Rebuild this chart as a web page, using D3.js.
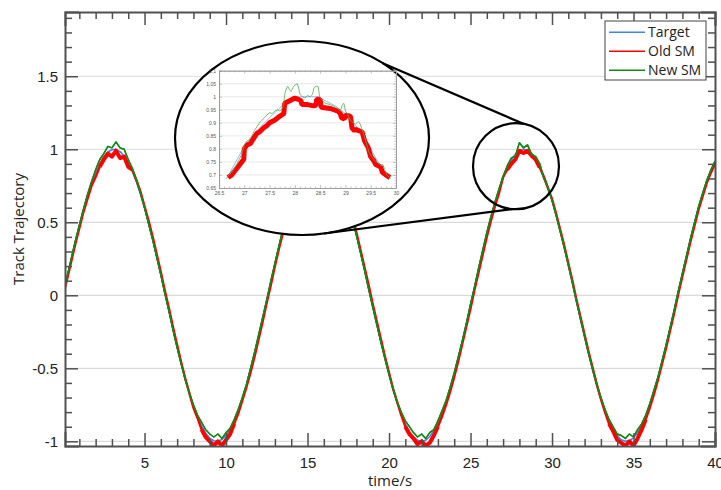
<!DOCTYPE html>
<html><head><meta charset="utf-8">
<script src="https://cdn.jsdelivr.net/npm/d3@7"></script>
<style>body{margin:0;background:#fff;} svg{display:block;font-family:"Open Sans","Noto Sans",sans-serif;}</style>
</head><body><svg id="c" width="721" height="490"></svg>
<script>
// ---------- DATA ----------
const T_START = 0, T_STEP = 0.25;   // sample times of the main series
const target = [0.000,0.125,0.247,0.366,0.479,0.585,0.682,0.768,0.841,0.902,0.949,0.981,0.997,0.999,0.984,0.954,0.909,0.851,0.778,0.694,
0.598,0.493,0.382,0.264,0.141,0.017,-0.108,-0.231,-0.351,-0.465,-0.572,-0.670,-0.757,-0.831,-0.895,-0.944,-0.978,-0.996,-0.999,-0.987,
-0.959,-0.917,-0.859,-0.788,-0.706,-0.612,-0.508,-0.398,-0.279,-0.157,-0.033,0.092,0.215,0.335,0.450,0.558,0.657,0.746,0.823,0.887,
0.938,0.975,0.995,1.000,0.989,0.964,0.922,0.867,0.798,0.717,0.624,0.523,0.412,0.296,0.174,0.050,-0.075,-0.198,-0.319,-0.435,
-0.544,-0.645,-0.736,-0.815,-0.880,-0.932,-0.970,-0.992,-1.000,-0.992,-0.967,-0.927,-0.875,-0.808,-0.730,-0.637,-0.537,-0.427,-0.311,-0.190,
-0.066,0.059,0.183,0.304,0.420,0.530,0.632,0.723,0.804,0.871,0.925,0.966,0.991,1.000,0.993,0.972,0.935,0.883,0.818,0.739,
0.650,0.550,0.441,0.326,0.206,0.083,-0.042,-0.166,-0.288,-0.405,-0.515,-0.619,-0.712,-0.796,-0.864,-0.920,-0.961,-0.989,-1.000,-0.995,
-0.976,-0.941,-0.891,-0.828,-0.751,-0.660,-0.562,-0.456,-0.340,-0.222,-0.099,0.025,0.150,0.272,0.389,0.501,0.605,0.700,0.783,0.855,0.913];
const oldSM = [0.00,0.11,0.23,0.35,0.46,0.57,0.66,0.75,0.81,0.88,0.93,0.97,0.95,0.99,0.94,0.95,0.88,0.86,0.79,0.71,
0.61,0.51,0.40,0.28,0.16,0.03,-0.09,-0.22,-0.34,-0.46,-0.57,-0.67,-0.77,-0.84,-0.92,-0.97,-1.00,-1.03,-1.00,-1.03,
-0.99,-0.95,-0.88,-0.81,-0.72,-0.63,-0.53,-0.42,-0.30,-0.18,-0.05,0.07,0.20,0.32,0.43,0.54,0.64,0.73,0.80,0.87,
0.91,0.96,0.98,0.95,0.98,0.94,0.93,0.87,0.81,0.73,0.64,0.54,0.43,0.31,0.19,0.07,-0.06,-0.18,-0.30,-0.42,
-0.53,-0.64,-0.73,-0.82,-0.90,-0.95,-0.98,-1.02,-1.00,-1.03,-1.01,-0.96,-0.90,-0.83,-0.75,-0.66,-0.56,-0.45,-0.33,-0.21,
-0.09,0.04,0.16,0.28,0.40,0.51,0.61,0.70,0.81,0.86,0.90,0.93,0.99,0.975,0.99,0.955,0.93,0.875,0.81,0.735,
0.66,0.56,0.45,0.34,0.22,0.10,-0.03,-0.15,-0.27,-0.39,-0.50,-0.61,-0.71,-0.80,-0.88,-0.93,-0.99,-1.01,-1.03,-1.00,
-1.03,-0.98,-0.92,-0.85,-0.77,-0.68,-0.58,-0.47,-0.36,-0.24,-0.12,0.01,0.13,0.25,0.37,0.48,0.59,0.68,0.77,0.84,0.90];
const newSM = [0.00,0.13,0.25,0.37,0.48,0.59,0.69,0.78,0.86,0.93,0.97,1.02,1.01,1.05,1.01,1.00,0.93,0.87,0.79,0.70,
0.60,0.49,0.38,0.26,0.14,0.01,-0.11,-0.24,-0.36,-0.47,-0.58,-0.67,-0.75,-0.82,-0.87,-0.92,-0.95,-0.97,-0.95,-0.98,
-0.94,-0.91,-0.85,-0.78,-0.70,-0.61,-0.50,-0.39,-0.27,-0.15,-0.03,0.10,0.22,0.34,0.46,0.57,0.67,0.76,0.84,0.91,
0.95,1.00,1.03,1.00,1.03,0.97,0.95,0.88,0.81,0.72,0.63,0.52,0.41,0.29,0.17,0.04,-0.08,-0.20,-0.32,-0.43,
-0.54,-0.64,-0.73,-0.80,-0.86,-0.90,-0.94,-0.97,-0.95,-0.98,-0.94,-0.92,-0.86,-0.79,-0.72,-0.63,-0.53,-0.42,-0.31,-0.19,
-0.06,0.06,0.19,0.31,0.43,0.54,0.64,0.73,0.815,0.886,0.94,0.955,1.045,1.01,1.03,0.965,0.95,0.90,0.80,0.74,
0.65,0.55,0.44,0.33,0.21,0.09,-0.04,-0.16,-0.28,-0.40,-0.51,-0.61,-0.70,-0.78,-0.85,-0.90,-0.95,-0.96,-0.98,-0.95,
-0.97,-0.92,-0.88,-0.82,-0.74,-0.65,-0.56,-0.45,-0.34,-0.22,-0.10,0.03,0.15,0.27,0.39,0.50,0.61,0.70,0.79,0.86,0.92];

// zoomed inset (26.5 .. 30 s)
const insetTargetT = [26.65,27.0,27.25,27.5,27.8,28.0,28.1,28.45,28.6,28.8,29.0,29.2,29.4,29.6,29.75,29.9];
const insetTargetV = [0.685,0.81,0.87,0.92,0.975,0.995,1.0,1.0,0.985,0.965,0.935,0.89,0.835,0.765,0.72,0.685];
const insetNewT = [26.65,26.75,26.85,26.95,27.0,27.05,27.1,27.15,27.2,27.25,27.3,27.35,27.4,27.45,27.5,27.55,27.6,27.65,27.7,27.75,
27.78,27.8,27.83,27.86,27.9,27.93,27.96,28.0,28.05,28.08,28.1,28.15,28.2,28.25,28.3,28.35,28.38,28.42,28.46,28.49,
28.55,28.6,28.7,28.8,28.85,28.9,28.94,28.97,29.0,29.05,29.1,29.15,29.2,29.25,29.28,29.32,29.38,29.43,29.47,29.52,
29.58,29.65,29.7,29.74,29.78,29.82,29.87];
const insetNewV = [0.69,0.71,0.74,0.78,0.815,0.83,0.835,0.85,0.87,0.885,0.9,0.91,0.92,0.93,0.94,0.935,0.945,0.95,0.945,0.955,
0.97,1.01,1.03,1.04,1.025,1.02,1.035,1.045,1.05,1.03,1.01,1.0,0.995,1.005,1.0,1.01,1.035,1.04,1.04,1.0,
0.985,0.975,0.97,0.96,0.955,0.945,0.97,0.975,0.945,0.93,0.91,0.9,0.895,0.905,0.9,0.88,0.845,0.81,0.785,0.77,
0.755,0.745,0.735,0.74,0.72,0.7,0.69];
const insetOldT = [26.68,26.75,26.85,26.95,26.99,27.0,27.05,27.12,27.2,27.25,27.3,27.38,27.45,27.5,27.6,27.7,27.78,27.8,27.9,28.0,
28.07,28.12,28.14,28.25,28.37,28.42,28.43,28.5,28.52,28.7,28.85,28.9,28.92,28.98,29.0,29.1,29.13,29.18,29.2,29.33,
29.38,29.45,29.5,29.56,29.6,29.7,29.73,29.8,29.88];
const insetOldV = [0.69,0.70,0.725,0.75,0.76,0.80,0.815,0.82,0.845,0.86,0.865,0.88,0.89,0.9,0.91,0.925,0.935,0.975,0.985,0.995,
0.99,0.985,0.97,0.97,0.965,0.968,0.99,0.99,0.96,0.955,0.945,0.935,0.92,0.915,0.93,0.925,0.88,0.87,0.875,0.865,
0.83,0.805,0.77,0.755,0.74,0.73,0.71,0.7,0.69];

const xTickValues = [5,10,15,20,25,30,35,40];
const yTickValues = [-1,-0.5,0,0.5,1,1.5];
const insetXTicks = [26.5,27,27.5,28,28.5,29,29.5,30];
const insetYTicks = [0.65,0.7,0.75,0.8,0.85,0.9,0.95,1,1.05,1.1];
const seriesNames = ["Target","Old SM","New SM"];
const xLabel = "time/s", yLabel = "Track Trajectory";

// ---------- CHART ----------
const svg = d3.select("#c");
const L = 65, R = 715, T = 12, B = 446;
const x = d3.scaleLinear().domain([0.12, 40]).range([L, R]);
const y = d3.scaleLinear().domain([-1.032, 1.94]).range([B, T]);
const colors = {"Target":"#3f86ec","Old SM":"#ff0000","New SM":"#138a13"};

const toPts = arr => arr.map((v,i)=>({t:T_START+i*T_STEP, v}));
const series = [
  {name:"Target", pts:toPts(target), w:1.6},
  {name:"Old SM", pts:toPts(oldSM), w:2.4},
  {name:"New SM", pts:toPts(newSM), w:1.4}
];

// grid
svg.append("g").selectAll("line").data(yTickValues).join("line")
  .attr("x1",L).attr("x2",R).attr("y1",d=>y(d)).attr("y2",d=>y(d))
  .attr("stroke","#dadada").attr("stroke-width",1.2);

svg.append("clipPath").attr("id","pc").append("rect").attr("x",L).attr("y",T).attr("width",R-L).attr("height",B-T);
const gl = svg.append("g").attr("clip-path","url(#pc)");
const line = d3.line().x(d=>x(d.t)).y(d=>y(d.v));
series.forEach(s=>{
  gl.append("path").datum(s.pts).attr("d",line).attr("fill","none")
    .attr("stroke",colors[s.name]).attr("stroke-width",s.w).attr("stroke-linejoin","round");
  if (s.name==="Old SM") {
    // chatter band of old SM near the extremes
    gl.append("path").datum(s.pts)
      .attr("d", d3.line().defined(d=>Math.abs(d.v)>0.84).x(d=>x(d.t)).y(d=>y(d.v)))
      .attr("fill","none").attr("stroke",colors[s.name]).attr("stroke-width",4).attr("stroke-linejoin","round");
  }
});
gl.append("path").datum(series[2].pts).attr("d",line).attr("fill","none")
  .attr("stroke",colors["New SM"]).attr("stroke-width",1.4).attr("stroke-linejoin","round");

// axes
const axisColor = "#505050";
const minorX = d3.range(1,41,1).filter(d=>d%5!==0);
const minorY = d3.range(-10,20,1).map(d=>d/10).filter(d=>Math.abs((d*10)%5)!==0 && d>=-1.03 && d<=1.94);
const fmt = d=>String(d);
function styleAxis(g, w){ g.selectAll("path.domain").attr("stroke",axisColor).attr("stroke-width",w); g.selectAll(".tick line").attr("stroke",axisColor).attr("stroke-width",1.5); g.selectAll("text").attr("fill","#222").attr("font-size",15); }
const gx = svg.append("g").attr("transform",`translate(0,${B})`).call(d3.axisBottom(x).tickValues(xTickValues).tickSize(-13).tickPadding(11).tickFormat(fmt));
styleAxis(gx,2);
svg.append("g").attr("transform",`translate(0,${B})`).call(d3.axisBottom(x).tickValues(minorX).tickSize(-7).tickFormat("")).call(g=>styleAxis(g,0));
const gy = svg.append("g").attr("transform",`translate(${L},0)`).call(d3.axisLeft(y).tickValues(yTickValues).tickSize(-13).tickPadding(7).tickFormat(fmt));
styleAxis(gy,2);
svg.append("g").attr("transform",`translate(${L},0)`).call(d3.axisLeft(y).tickValues(minorY).tickSize(-7).tickFormat("")).call(g=>styleAxis(g,0));
svg.append("g").attr("transform",`translate(0,${T})`).call(d3.axisTop(x).tickValues(xTickValues).tickSize(-13).tickFormat("")).call(g=>styleAxis(g,2));
svg.append("g").attr("transform",`translate(0,${T})`).call(d3.axisTop(x).tickValues(minorX).tickSize(-7).tickFormat("")).call(g=>styleAxis(g,0));
svg.append("g").attr("transform",`translate(${R},0)`).call(d3.axisRight(y).tickValues(yTickValues).tickSize(-13).tickFormat("")).call(g=>styleAxis(g,2));
svg.append("g").attr("transform",`translate(${R},0)`).call(d3.axisRight(y).tickValues(minorY).tickSize(-7).tickFormat("")).call(g=>styleAxis(g,0));
svg.selectAll("path.domain").attr("stroke-linecap","square");

svg.append("text").attr("x",(L+R)/2).attr("y",486).attr("text-anchor","middle").attr("font-size",15).attr("fill","#222").text(xLabel);
svg.append("text").attr("transform",`translate(24,${(T+B)/2}) rotate(-90)`).attr("text-anchor","middle").attr("font-size",15).attr("fill","#222").text(yLabel);

// ---------- zoom annotation ----------
const E = {cx:302, cy:138, rx:127, ry:97};
const C = {cx:x(27.79), cy:y(0.884), r:43};
const ePt = a => [E.cx+E.rx*Math.cos(a*Math.PI/180), E.cy-E.ry*Math.sin(a*Math.PI/180)];
const cPt = a => [C.cx+C.r*Math.cos(a*Math.PI/180), C.cy+C.r*Math.sin(a*Math.PI/180)];
svg.append("ellipse").attr("cx",E.cx).attr("cy",E.cy).attr("rx",E.rx).attr("ry",E.ry)
  .attr("fill","#fff").attr("stroke","#000").attr("stroke-width",2.2);
svg.append("circle").attr("cx",C.cx).attr("cy",C.cy).attr("r",C.r).attr("fill","none").attr("stroke","#000").attr("stroke-width",2.2);
[[ePt(50.5),cPt(-80)],[ePt(-80),cPt(95)]].forEach(([a,b])=>{
  svg.append("line").attr("x1",a[0]).attr("y1",a[1]).attr("x2",b[0]).attr("y2",b[1]).attr("stroke","#000").attr("stroke-width",2.2);
});

// inset
const IL=219, IR=396, IT=70.7, IB=188;
const xi = d3.scaleLinear().domain([26.5,30]).range([IL,IR]);
const yi = d3.scaleLinear().domain([0.65,1.1]).range([IB,IT]);
const gi = svg.append("g");
gi.selectAll("line.g").data(insetYTicks.slice(1,-1)).join("line").attr("class","g")
  .attr("x1",IL).attr("x2",IR).attr("y1",d=>yi(d)).attr("y2",d=>yi(d)).attr("stroke","#e2e2e2").attr("stroke-width",0.8);
const ifmt = d=>String(+d.toFixed(2));
function styleInset(g){ g.selectAll("path.domain").attr("stroke","#9a9a9a").attr("stroke-width",0.8); g.selectAll(".tick line").attr("stroke","#9a9a9a").attr("stroke-width",0.6); g.selectAll("text").attr("fill","#555").attr("font-size",5); }
const iMinX = d3.range(266,301,1).map(d=>d/10).filter(d=>Math.abs(d*2-Math.round(d*2))>1e-6);
const iMinY = d3.range(65,111,1).map(d=>d/100).filter(d=>Math.round(d*100)%5!==0);
gi.append("g").attr("transform",`translate(0,${IB})`).call(d3.axisBottom(xi).tickValues(insetXTicks).tickSize(-3).tickPadding(3).tickFormat(ifmt)).call(styleInset);
gi.append("g").attr("transform",`translate(0,${IB})`).call(d3.axisBottom(xi).tickValues(iMinX).tickSize(-1.5).tickFormat("")).call(styleInset);
gi.append("g").attr("transform",`translate(${IL},0)`).call(d3.axisLeft(yi).tickValues(insetYTicks).tickSize(-3).tickPadding(3).tickFormat(ifmt)).call(styleInset);
gi.append("g").attr("transform",`translate(${IL},0)`).call(d3.axisLeft(yi).tickValues(iMinY).tickSize(-1.5).tickFormat("")).call(styleInset);
gi.append("g").attr("transform",`translate(0,${IT})`).call(d3.axisTop(xi).tickValues(insetXTicks).tickSize(-3).tickFormat("")).call(styleInset);
gi.append("g").attr("transform",`translate(0,${IT})`).call(d3.axisTop(xi).tickValues(iMinX).tickSize(-1.5).tickFormat("")).call(styleInset);
gi.append("g").attr("transform",`translate(${IR},0)`).call(d3.axisRight(yi).tickValues(insetYTicks).tickSize(-3).tickFormat("")).call(styleInset);
gi.append("g").attr("transform",`translate(${IR},0)`).call(d3.axisRight(yi).tickValues(iMinY).tickSize(-1.5).tickFormat("")).call(styleInset);
const iline = d3.line().x(d=>xi(d[0])).y(d=>yi(d[1]));
const zip = (a,b)=>a.map((t,i)=>[t,b[i]]);
gi.append("path").datum(zip(insetTargetT,insetTargetV)).attr("d",iline).attr("fill","none").attr("stroke","#8ab0f2").attr("stroke-width",0.9);
gi.append("path").datum(zip(insetOldT,insetOldV)).attr("d",iline).attr("fill","none").attr("stroke","#ff0000").attr("stroke-width",5).attr("stroke-linejoin","bevel");
gi.append("path").datum(zip(insetNewT,insetNewV)).attr("d",iline).attr("fill","none").attr("stroke","#55b055").attr("stroke-width",0.8);

// legend
const lg = svg.append("g");
lg.append("rect").attr("x",605).attr("y",21).attr("width",101).attr("height",59).attr("fill","#fff").attr("stroke","#444").attr("stroke-width",1);
seriesNames.forEach((n,i)=>{
  const yy = 32.3 + i*19;
  lg.append("line").attr("x1",609).attr("x2",645).attr("y1",yy).attr("y2",yy).attr("stroke",colors[n]).attr("stroke-width",1.5);
  lg.append("text").attr("x",648).attr("y",yy+5).attr("font-size",14).attr("fill","#222").text(n);
});
</script></body></html>
